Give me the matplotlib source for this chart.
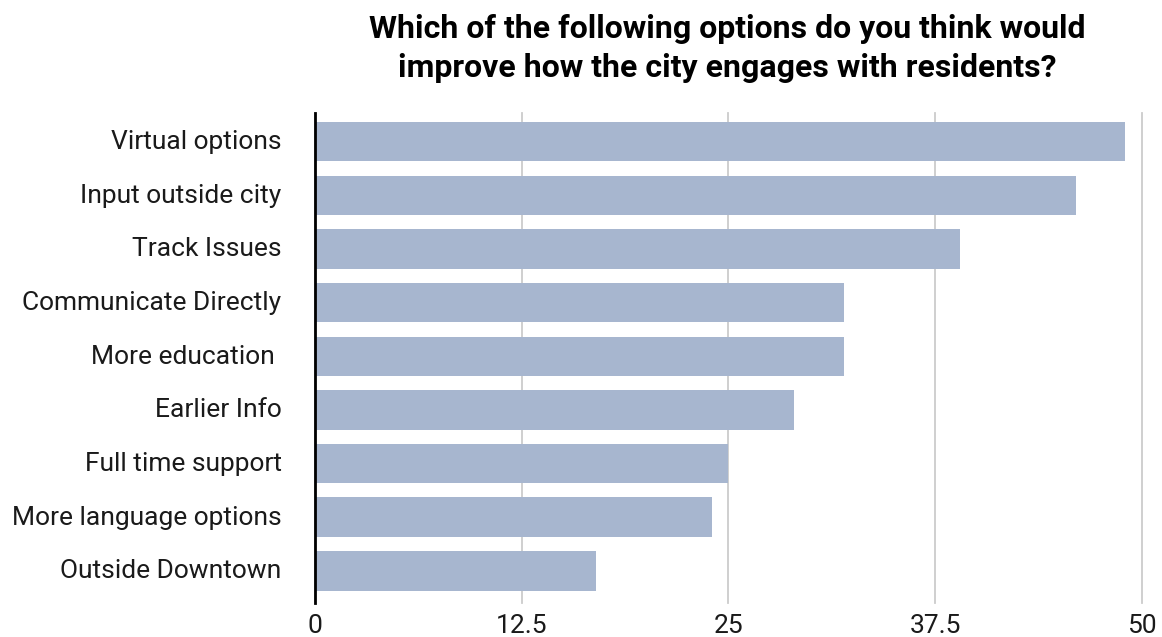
import matplotlib.pyplot as plt
import matplotlib.transforms as mtransforms

# survey answers, top to bottom
options = ["Virtual options", "Input outside city", "Track Issues",
           "Communicate Directly", "More education ", "Earlier Info",
           "Full time support", "More language options", "Outside Downtown"]
counts = [49, 46, 39, 32, 32, 29, 25, 24, 17]
x_ticks = [0, 12.5, 25, 37.5, 50]
x_tick_labels = ["0", "12.5", "25", "37.5", "50"]

plt.rcParams['font.family'] = ['Roboto', 'DejaVu Sans']

fig = plt.figure(figsize=(11.62, 6.37), dpi=100)
ax = fig.add_axes([0.271, 0.0534, 0.9825 - 0.271, 0.8226 - 0.0534])

pos = list(range(len(options)))
ax.barh(pos, counts, height=0.735, color="#a7b6cf", zorder=2)

ax.set_xlim(0, 50)
ax.set_ylim(8.6, -0.535)
ax.set_xticks(x_ticks)
ax.set_xticklabels(x_tick_labels)
ax.set_yticks(pos)
ax.set_yticklabels(options)
ax.tick_params(axis='both', length=0, labelsize=19, colors="#1a1a1a")
ax.tick_params(axis='y', pad=24)
ax.tick_params(axis='x', pad=8)
# put the label baseline a few pixels under the bar centre
shift = mtransforms.ScaledTranslation(0, -7.5 / 100, fig.dpi_scale_trans)
for lbl in ax.get_yticklabels():
    lbl.set_va('baseline')
    lbl.set_transform(lbl.get_transform() + shift)

ax.grid(axis='x', color="#cccccc", linewidth=1.3, zorder=0)
for g in ax.get_xgridlines():
    g.set_clip_on(False)
for s in ['top', 'right', 'bottom']:
    ax.spines[s].set_visible(False)
ax.spines['left'].set_linewidth(2)
ax.spines['left'].set_color("black")
ax.spines['left'].set_zorder(3)

fig.text(0.626, 0.978, "Which of the following options do you think would\nimprove how the city engages with residents?",
         ha='center', va='top', fontsize=23, fontweight='bold', linespacing=1.38)

plt.savefig("out.png", dpi=100)
